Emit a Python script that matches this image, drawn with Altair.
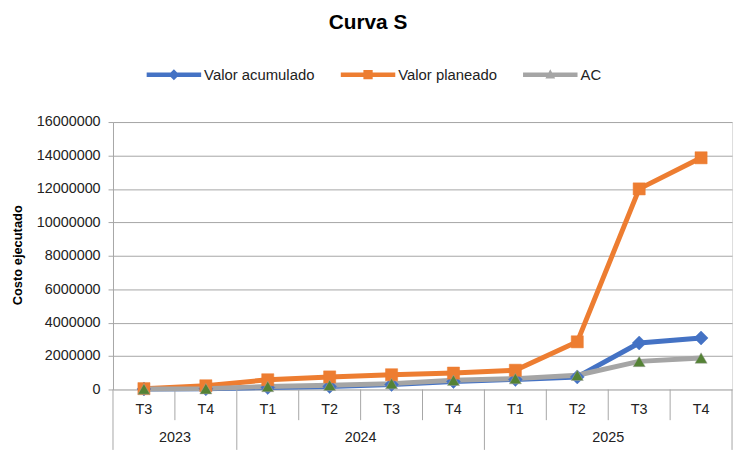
import altair as alt
import pandas as pd

# ---- data ----
quarters = ["T3", "T4", "T1", "T2", "T3", "T4", "T1", "T2", "T3", "T4"]
years = ["2023", "2023", "2024", "2024", "2024", "2024", "2025", "2025", "2025", "2025"]
valor_acumulado = [30000, 40000, 120000, 180000, 300000, 480000, 600000, 750000, 2780000, 3080000]
valor_planeado = [50000, 220000, 580000, 750000, 880000, 980000, 1150000, 2850000, 12000000, 13860000]
ac = [30000, 50000, 180000, 250000, 350000, 550000, 650000, 850000, 1680000, 1880000]
series_names = ["Valor acumulado", "Valor planeado", "AC"]
y_ticks = [0, 2000000, 4000000, 6000000, 8000000, 10000000, 12000000, 14000000, 16000000]

# ---- style ----
FONT = "Liberation Sans"
BLUE, ORANGE, GRAY, GREEN = "#4472C4", "#ED7D31", "#A5A5A5", "#548235"
AXIS_GRAY = "#A6A6A6"
W, H = 625, 270

n = len(quarters)
pos = [i + 0.5 for i in range(n)]

rows = []
for name, vals in zip(series_names, [valor_acumulado, valor_planeado, ac]):
    for i in range(n):
        rows.append({"serie": name, "pos": pos[i], "q": quarters[i], "year": years[i], "value": vals[i]})
df = pd.DataFrame(rows)

qdf = pd.DataFrame({"pos": pos, "q": quarters})

# year groups
year_rows = []
start = 0
for i in range(1, n + 1):
    if i == n or years[i] != years[start]:
        year_rows.append({"year": years[start], "center": (start + i) / 2})
        start = i
ydf = pd.DataFrame(year_rows)

# separators between categories
bounds = []
for b in range(n + 1):
    is_year = b == 0 or b == n or years[b] != years[b - 1]
    bounds.append({"b": b, "kind": "year" if is_year else "q"})
bdf = pd.DataFrame(bounds)

xscale = alt.Scale(domain=[0, n], nice=False, zero=False)
yscale = alt.Scale(domain=[0, 16000000], nice=False)

X = alt.X("pos:Q", scale=xscale, axis=None)
Y = alt.Y(
    "value:Q",
    scale=yscale,
    axis=alt.Axis(
        values=y_ticks,
        tickCount=len(y_ticks),
        format="d",
        labelOverlap=False,
        labelBound=False,
        labelFlush=False,
        title="Costo ejecutado",
        titleFont=FONT,
        titleFontSize=13,
        titleFontWeight="bold",
        titleColor="black",
        titleAngle=270,
        titleAlign="center",
        titleBaseline="middle",
        titleX=-96,
        titleY=134,
        labelFont=FONT,
        labelFontSize=14.5,
        labelColor="#222222",
        labelPadding=8,
        tickSize=5,
        tickColor=AXIS_GRAY,
        domainColor=AXIS_GRAY,
        gridColor=AXIS_GRAY,
        grid=True,
    ),
)

base = alt.Chart(df)

lines = []
points = []
for name, col in zip(series_names, [BLUE, ORANGE, GRAY]):
    lines.append(
        base.transform_filter(alt.datum.serie == name)
        .mark_line(color=col, strokeWidth=5, strokeJoin="round", strokeCap="round")
        .encode(x=X, y=Y)
    )
marker_spec = {
    "Valor acumulado": ("diamond", BLUE, 200),
    "Valor planeado": ("square", ORANGE, 150),
    "AC": ("triangle-up", GREEN, 150),
}
for name in series_names:
    shp, col, sz = marker_spec[name]
    points.append(
        base.transform_filter(alt.datum.serie == name)
        .mark_point(shape=shp, filled=True, color=col, size=sz, opacity=1,
                    stroke=GRAY if name == "AC" else col, strokeWidth=0.5)
        .encode(x=X, y=Y)
    )

# legend-only layer (its own marks have zero size)
legend_paths = [
    "M-1,-0.08L1,-0.08L1,0.08L-1,0.08Z M0,-0.2L0.2,0L0,0.2L-0.2,0Z",
    "M-1,-0.08L1,-0.08L1,0.08L-1,0.08Z M-0.17,-0.17L0.17,-0.17L0.17,0.17L-0.17,0.17Z",
    "M-1,-0.08L1,-0.08L1,0.08L-1,0.08Z M0,-0.2L0.18,0.14L-0.18,0.14Z",
]
legend_layer = (
    alt.Chart(pd.DataFrame({"serie": series_names}))
    .mark_point(filled=True, opacity=1, size=0)
    .encode(
        x=alt.value(1),
        y=alt.value(H - 1),
        color=alt.Color(
            "serie:N",
            scale=alt.Scale(domain=series_names, range=[BLUE, ORANGE, GRAY]),
            legend=alt.Legend(
                title=None,
                orient="none",
                direction="horizontal",
                legendX=34,
                legendY=-75.5,
                symbolSize=3025,
                symbolOpacity=1,
                symbolStrokeWidth=0,
                labelFont=FONT,
                labelFontSize=15,
                labelColor="#222222",
                labelOffset=3,
                columnPadding=26,
                padding=0,
            ),
        ),
        shape=alt.Shape("serie:N", scale=alt.Scale(domain=series_names, range=legend_paths)),
    )
)

# category axis (two-level)
sep_q = (
    alt.Chart(bdf)
    .transform_filter(alt.datum.kind == "q")
    .mark_rule(color=AXIS_GRAY, strokeWidth=1)
    .encode(x=alt.X("b:Q", scale=xscale, axis=None), y=alt.value(H), y2=alt.value(H + 31))
)
sep_y = (
    alt.Chart(bdf)
    .transform_filter(alt.datum.kind == "year")
    .mark_rule(color=AXIS_GRAY, strokeWidth=1)
    .encode(x=alt.X("b:Q", scale=xscale, axis=None), y=alt.value(H), y2=alt.value(H + 61))
)
qlabels = (
    alt.Chart(qdf)
    .mark_text(font=FONT, fontSize=14.5, color="#222222", baseline="middle")
    .encode(x=alt.X("pos:Q", scale=xscale, axis=None), y=alt.value(H + 20.5), text="q:N")
)
ylabels = (
    alt.Chart(ydf)
    .mark_text(font=FONT, fontSize=14.5, color="#222222", baseline="middle")
    .encode(x=alt.X("center:Q", scale=xscale, axis=None), y=alt.value(H + 49), text="year:N")
)

chart = (
    alt.layer(*lines, *points, legend_layer, sep_q, sep_y, qlabels, ylabels)
    .properties(
        width=W,
        height=H,
        autosize=alt.AutoSizeParams(type="none"),
        padding={"left": 106, "top": 113, "right": 4, "bottom": 61},
        title=alt.TitleParams(
            "Curva S",
            font=FONT,
            fontSize=21,
            fontWeight="bold",
            color="black",
            anchor="middle",
            dx=-55,
            offset=14,
        ),
    )
    .configure_view(stroke=None)
    .configure(background="white")
)

chart.save("out.html", embed_options={"renderer": "svg", "actions": False})
